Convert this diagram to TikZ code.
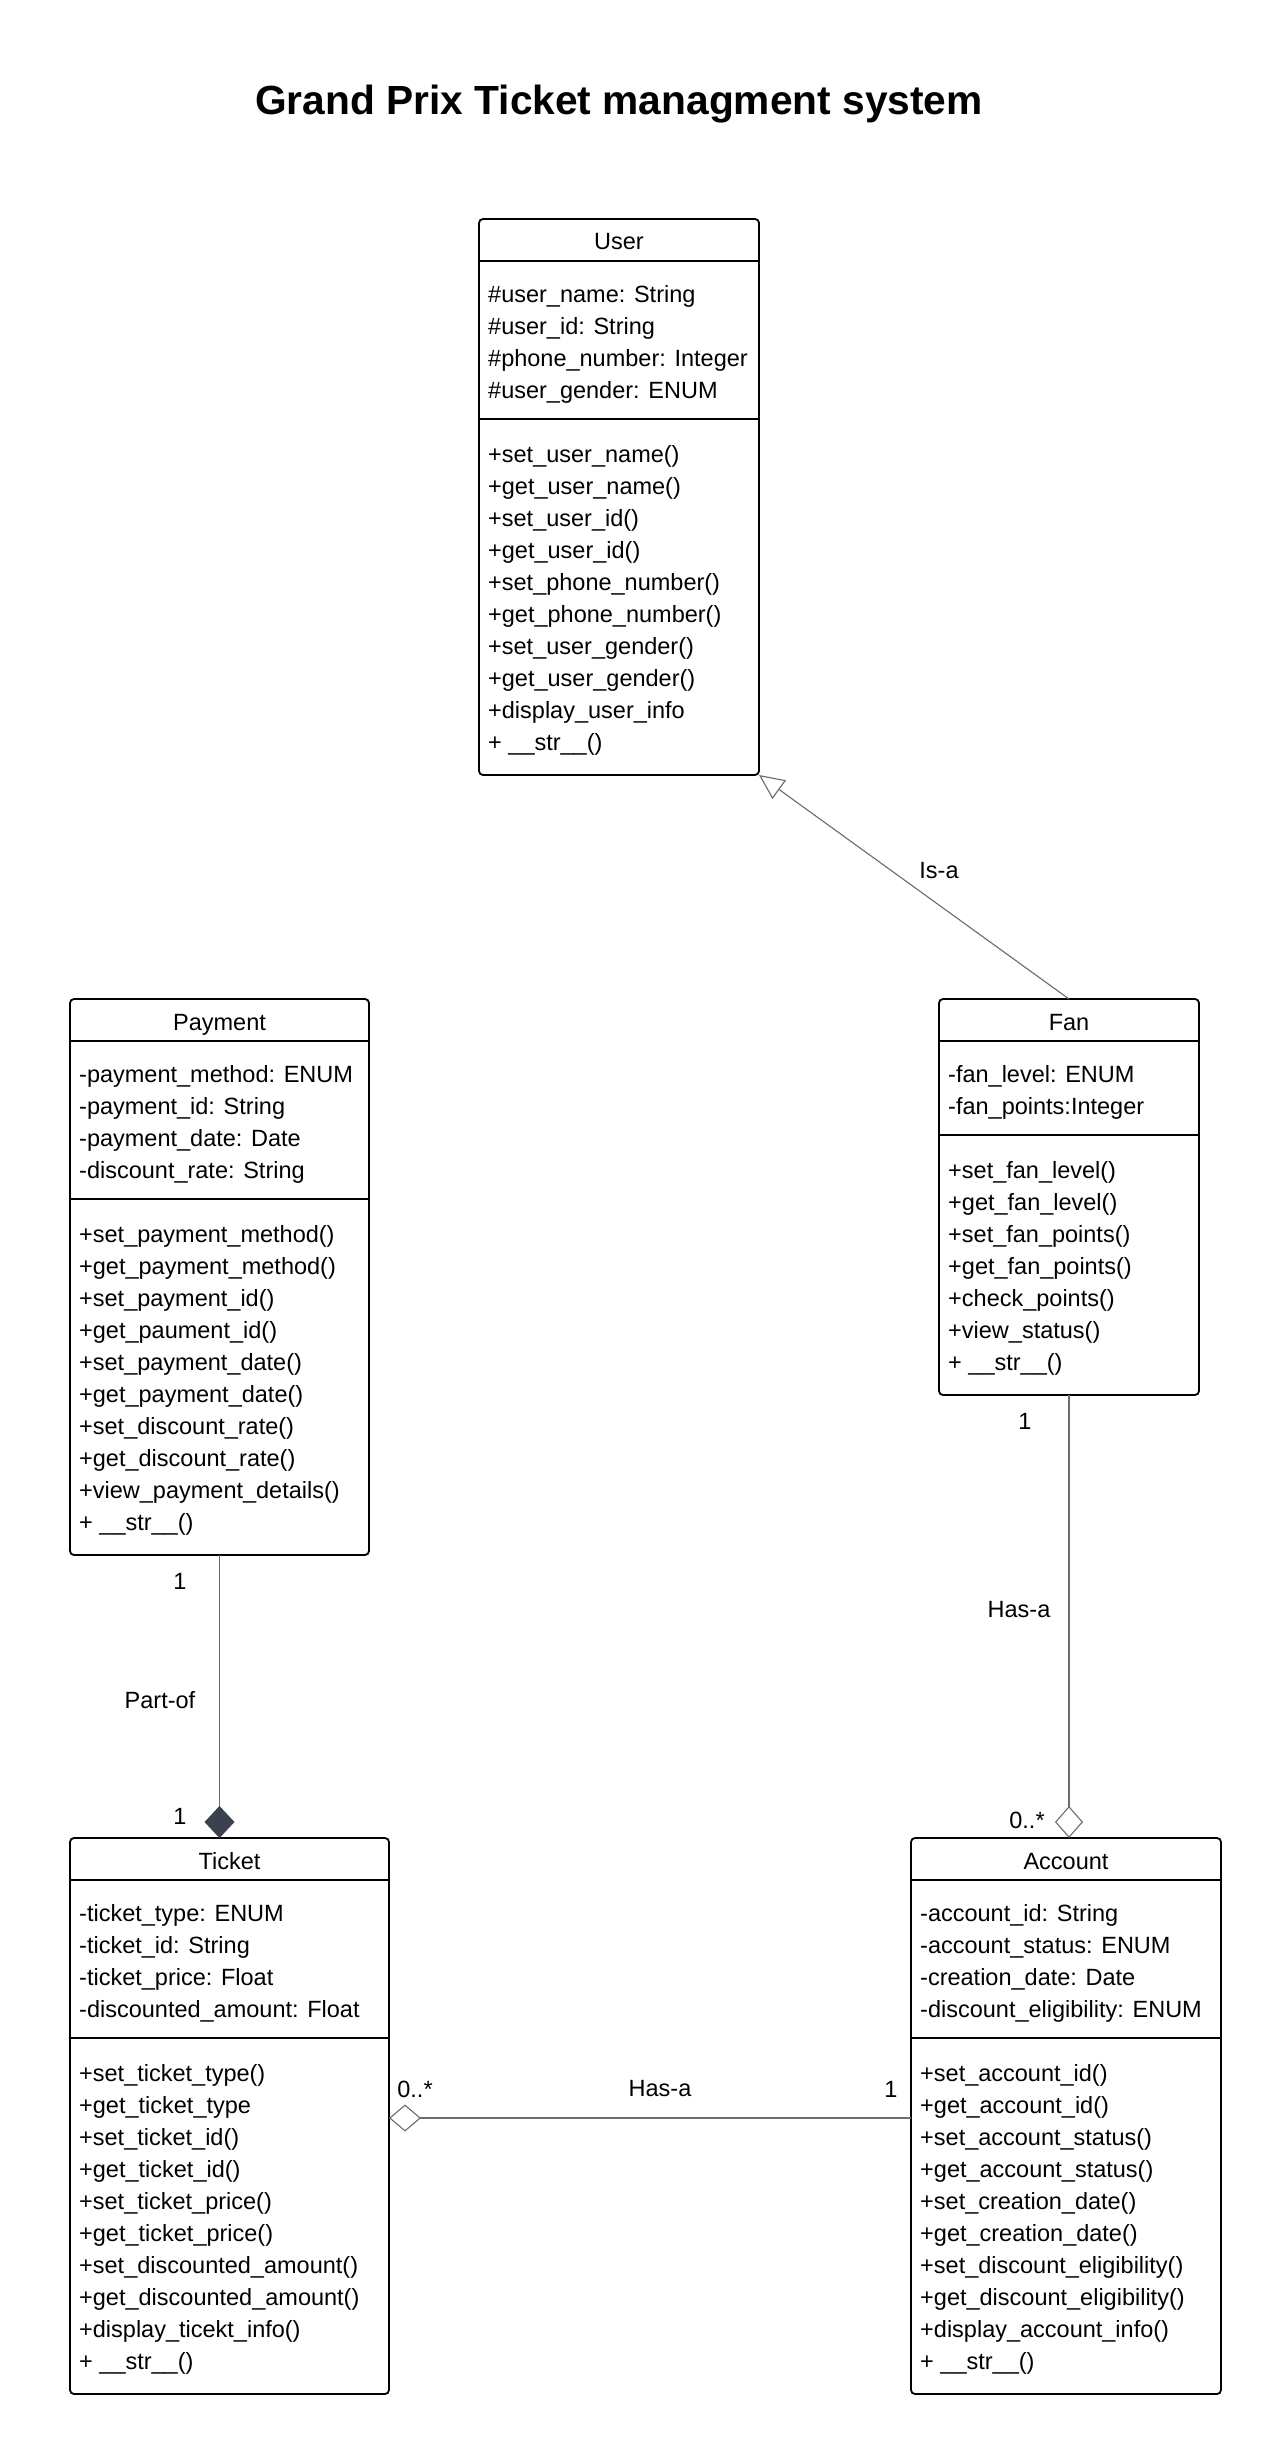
\documentclass[tikz,border=0pt]{standalone}
\usepackage{fontspec}
\setmainfont{Liberation Sans}
\usetikzlibrary{arrows.meta}

\definecolor{linkgray}{HTML}{6B6B6B}
\definecolor{diamondfill}{HTML}{3B414D}

\newcommand\memberfont{\fontsize{23.5}{32}\selectfont}
\newcommand\titlefont{\bfseries\fontsize{40.7}{48}\selectfont}

\tikzset{
  classbox/.style={draw=black, line width=1.8pt, rounded corners=4pt,
    inner sep=0pt, outer sep=0pt, fill=white},
  sepline/.style={draw=black, line width=1.8pt},
  member/.style={anchor=base west, inner sep=0pt, font=\memberfont},
  cname/.style={anchor=base, inner sep=0pt, font=\memberfont},
  link/.style={draw=linkgray, line width=1.1pt},
  lbl/.style={inner sep=0pt, font=\memberfont},
}

% UML class box:
% #1 name, #2 left x, #3 top y, #4 width, #5 attribute count,
% #6 method count, #7 class name, #8 attributes, #9 methods
\newcommand\umlclass[9]{%
  \pgfmathsetmacro\secA{30+32*#5}%
  \pgfmathsetmacro\secM{36+32*#6}%
  \pgfmathsetmacro\boxH{42+\secA+\secM}%
  \node[classbox, minimum width=#4pt, minimum height=\boxH pt,
        anchor=north west] (#1) at (#2,#3) {};
  \draw[sepline] (#2,#3+42) -- ++(#4,0);
  \draw[sepline] (#2,#3+42+\secA) -- ++(#4,0);
  \node[cname] (#1-name) at (#2+#4/2,#3+31) {#7};
  \foreach \txt [count=\k] in {#8}
    \node[member] (#1-a\k) at (#2+9,#3+42+31+32*\k-32+10) {\txt};
  \foreach \txt [count=\k] in {#9}
    \node[member] (#1-m\k) at (#2+9,#3+42+\secA+33+32*\k-32+10) {\txt};
}

\begin{document}
\begin{tikzpicture}[x=1pt,y=-1pt]
  \useasboundingbox[fill=white] (0,0) rectangle (1263,2440);

  % title
  \node[anchor=base, inner sep=0pt, font=\titlefont] (title) at (619,115)
    {Grand Prix Ticket managment system};

  % classes
  \umlclass{user}{479}{219}{280}{4}{10}{User}
    {{\#user\_name: String},{\#user\_id: String},{\#phone\_number: Integer},{\#user\_gender: ENUM}}
    {{+set\_user\_name()},{+get\_user\_name()},{+set\_user\_id()},{+get\_user\_id()},
     {+set\_phone\_number()},{+get\_phone\_number()},{+set\_user\_gender()},
     {+get\_user\_gender()},{+display\_user\_info},{+ \_\_str\_\_()}}

  \umlclass{payment}{70}{999}{299}{4}{10}{Payment}
    {{-payment\_method: ENUM},{-payment\_id: String},{-payment\_date: Date},{-discount\_rate: String}}
    {{+set\_payment\_method()},{+get\_payment\_method()},{+set\_payment\_id()},
     {+get\_paument\_id()},{+set\_payment\_date()},{+get\_payment\_date()},
     {+set\_discount\_rate()},{+get\_discount\_rate()},{+view\_payment\_details()},
     {+ \_\_str\_\_()}}

  \umlclass{fan}{939}{999}{260}{2}{7}{Fan}
    {{-fan\_level: ENUM},{-fan\_points:Integer}}
    {{+set\_fan\_level()},{+get\_fan\_level()},{+set\_fan\_points()},
     {+get\_fan\_points()},{+check\_points()},{+view\_status()},{+ \_\_str\_\_()}}

  \umlclass{ticket}{70}{1838}{319}{4}{10}{Ticket}
    {{-ticket\_type: ENUM},{-ticket\_id: String},{-ticket\_price: Float},{-discounted\_amount: Float}}
    {{+set\_ticket\_type()},{+get\_ticket\_type},{+set\_ticket\_id()},{+get\_ticket\_id()},
     {+set\_ticket\_price()},{+get\_ticket\_price()},{+set\_discounted\_amount()},
     {+get\_discounted\_amount()},{+display\_ticekt\_info()},{+ \_\_str\_\_()}}

  \umlclass{account}{911}{1838}{310}{4}{10}{Account}
    {{-account\_id: String},{-account\_status: ENUM},{-creation\_date: Date},{-discount\_eligibility: ENUM}}
    {{+set\_account\_id()},{+get\_account\_id()},{+set\_account\_status()},
     {+get\_account\_status()},{+set\_creation\_date()},{+get\_creation\_date()},
     {+set\_discount\_eligibility()},{+get\_discount\_eligibility()},
     {+display\_account\_info()},{+ \_\_str\_\_()}}

  % generalisation: Fan is-a User
  \draw[link, -{Triangle[open, length=25pt, width=23pt, line width=1.1pt, fill=white]}]
    (fan.north) -- (user.south east);
  \node[lbl] (isa) at (939,871) {Is-a};

  % composition: Payment part-of Ticket
  \draw[link, -{Diamond[length=32pt, width=30pt, color=diamondfill, fill=diamondfill]}]
    (payment.south) -- (payment.south |- ticket.north);
  \node[lbl] (pt1) at (180,1581) {1};
  \node[lbl] (partof) at (160,1700) {Part-of};
  \node[lbl] (pt2) at (180,1816) {1};

  % aggregation: Fan has-a Account
  \draw[link, -{Diamond[open, length=32pt, width=28pt, line width=1.1pt, fill=white]}]
    (fan.south) -- (fan.south |- account.north);
  \node[lbl] (fa1) at (1025,1421) {1};
  \node[lbl] (fahas) at (1019,1610) {Has-a};
  \node[lbl] (fa2) at (1027,1820) {0..*};

  % aggregation: Account has-a Ticket
  \coordinate (tarow) at (0,2118);
  \draw[link, -{Diamond[open, length=32pt, width=27pt, line width=1.1pt, fill=white]}]
    (account.west |- tarow) -- (ticket.east |- tarow);
  \node[lbl] (ta1) at (415,2089) {0..*};
  \node[lbl] (tahas) at (660,2089) {Has-a};
  \node[lbl] (ta2) at (891,2089) {1};
\end{tikzpicture}
\end{document}
